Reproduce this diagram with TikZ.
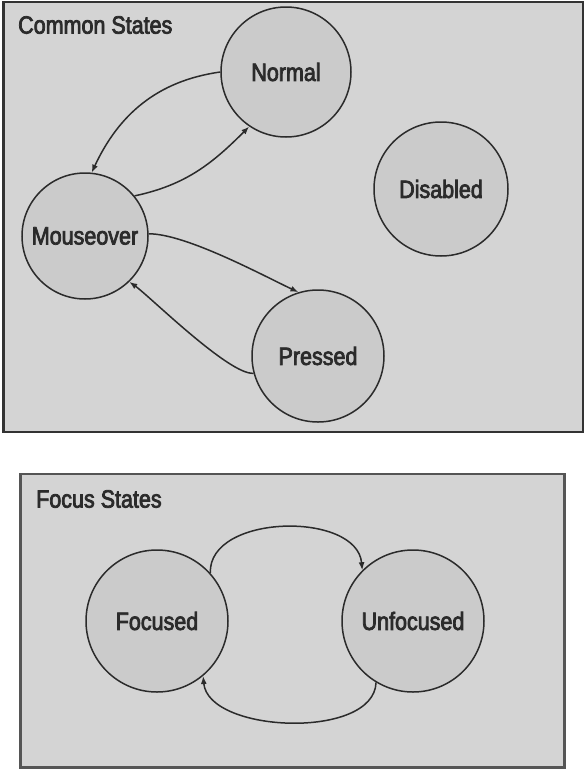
\documentclass[tikz,border=0pt]{standalone}
\usepackage{fontspec}
\newfontfamily\labelfont[FakeStretch=0.86, FakeBold=3]{Liberation Sans}
\usetikzlibrary{arrows.meta}
\definecolor{panelfill}{HTML}{D4D4D4}
\definecolor{statefill}{HTML}{CBCBCB}
\definecolor{ink}{HTML}{2B2B2B}
\definecolor{panelline}{HTML}{333333}
\definecolor{panelline2}{HTML}{555555}
\tikzset{
  panel/.style={fill=panelfill, draw=panelline, line width=2.5pt},
  state/.style={circle, fill=statefill, draw=ink, line width=1.5pt,
    inner sep=0pt, text=ink,
    font=\labelfont\fontsize{25}{30}\selectfont},
  title/.style={anchor=west, text=ink, inner sep=0pt,
    font=\labelfont\fontsize{25}{30}\selectfont},
  trans/.style={draw=ink, line width=1.5pt,
    -{Latex[length=8pt,width=6pt]}},
}
\begin{document}
\begin{tikzpicture}[x=1pt,y=-1pt]
  \useasboundingbox (0,0) rectangle (585,769);

  % panels
  \draw[panel] (3.5,2) rectangle (583,432);
  \draw[panel, draw=panelline2] (20.5,474) rectangle (564.5,767.5);

  \node[title] (common) at (18,25) {Common States};
  \node[title] (focus) at (36,499) {Focus States};

  % common states
  \node[state, minimum size=130pt] (normal) at (286,72) {Normal};
  \node[state, minimum size=134pt] (disabled) at (441,189) {Disabled};
  \node[state, minimum size=126pt] (mouseover) at (85,236) {Mouseover};
  \node[state, minimum size=132pt] (pressed) at (318,356) {Pressed};

  \draw[trans] (normal.180) to[out=188, in=65] (mouseover.84);
  \draw[trans] (mouseover.39) to[out=12, in=225] (normal.236);
  \draw[trans] (mouseover.2) to[out=0, in=155, looseness=0.6] (pressed.107);
  \draw[trans] (pressed.195) to[out=185, in=-35, looseness=0.4] (mouseover.314);

  % focus states
  \node[state, minimum size=142pt] (focused) at (157,621) {Focused};
  \node[state, minimum size=142pt] (unfocused) at (413,621) {Unfocused};

  \draw[trans] (focused.42) to[out=92, in=95] (unfocused.135);
  \draw[trans] (unfocused.239) to[out=268, in=275, looseness=0.85] (focused.310);
\end{tikzpicture}
\end{document}
